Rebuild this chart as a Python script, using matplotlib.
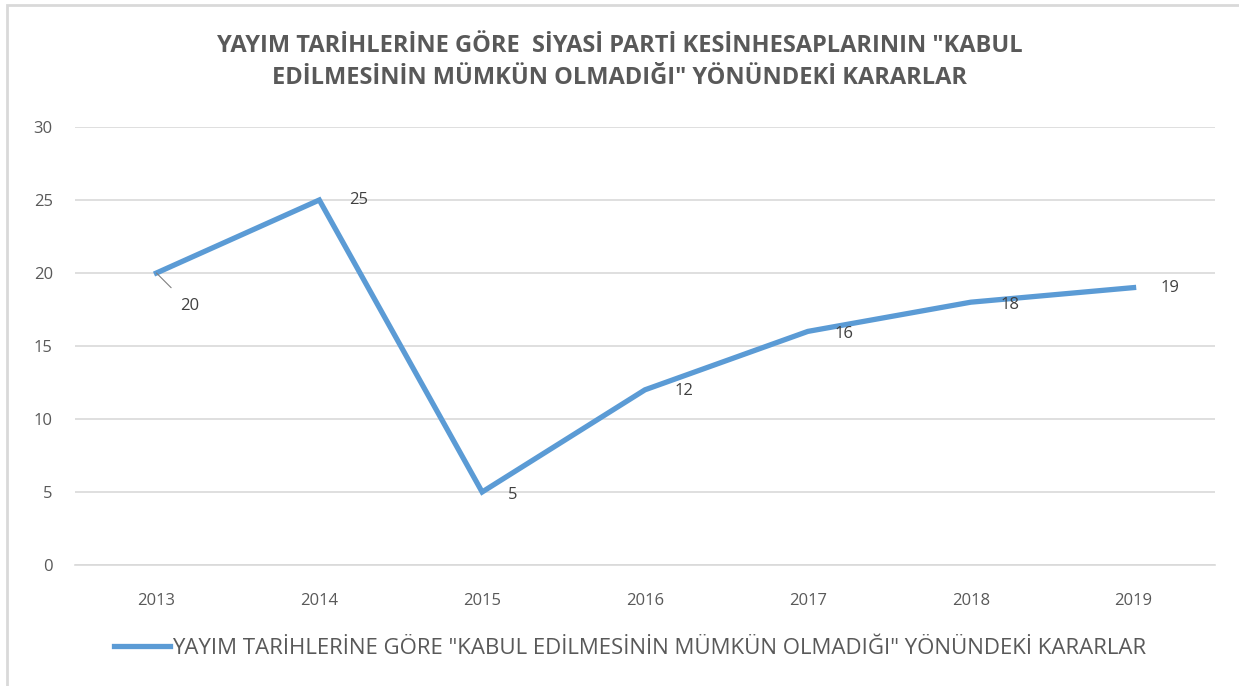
import matplotlib
matplotlib.use("Agg")
import matplotlib.pyplot as plt
from matplotlib.patches import Rectangle

years = ["2013", "2014", "2015", "2016", "2017", "2018", "2019"]
values = [20, 25, 5, 12, 16, 18, 19]
y_ticks = [0, 5, 10, 15, 20, 25, 30]
title = 'YAYIM TARİHLERİNE GÖRE  SİYASİ PARTİ KESİNHESAPLARININ "KABUL\nEDİLMESİNİN MÜMKÜN OLMADIĞI" YÖNÜNDEKİ KARARLAR'
series_name = 'YAYIM TARİHLERİNE GÖRE "KABUL EDİLMESİNİN MÜMKÜN OLMADIĞI" YÖNÜNDEKİ KARARLAR'

# label offsets in points (dx, dy) per point
label_offsets = [(24, -24), (28, 0), (22, -2), (28, -1), (26, -2), (28, -2), (26, 0)]

plt.rcParams['font.family'] = ['Open Sans', 'DejaVu Sans']
W, H = 1239, 686
fig = plt.figure(figsize=(W / 100, H / 100), dpi=100)
fig.patch.set_facecolor('white')

# chart border
fig.add_artist(Rectangle((7 / W, -0.01), 1.02, 1 - 5 / H + 0.01, transform=fig.transFigure,
                         fill=False, edgecolor='#d9d9d9', linewidth=2))

ax = fig.add_axes([75 / W, 1 - 565 / H, (1215 - 75) / W, (565 - 127) / H])
x = list(range(len(years)))
line, = ax.plot(x, values, color='#5B9BD5', linewidth=3.8, solid_joinstyle='miter',
                label=series_name, zorder=3)

ax.set_xlim(-0.5, len(years) - 0.5)
ax.set_ylim(0, 30)
ax.set_yticks(y_ticks)
ax.set_yticklabels([str(t) for t in y_ticks])
ax.set_xticks(x)
ax.set_xticklabels(years)
ax.tick_params(axis='both', length=0, labelsize=12, labelcolor='#595959')
ax.tick_params(axis='y', pad=16)
ax.tick_params(axis='x', pad=20)
for s in ['top', 'right', 'left']:
    ax.spines[s].set_visible(False)
ax.spines['bottom'].set_color('#d9d9d9')
ax.spines['bottom'].set_linewidth(1.2)
ax.grid(axis='y', color='#d9d9d9', linewidth=1.2)
ax.set_axisbelow(True)

for i, v in enumerate(values):
    dx, dy = label_offsets[i]
    if i == 0:
        ax.annotate(str(v), xy=(i, v), xytext=(dx, dy), textcoords='offset points',
                    ha='center', va='center', fontsize=12, color='#404040',
                    arrowprops=dict(arrowstyle='-', color='#808080', lw=0.8,
                                    shrinkA=8, shrinkB=0))
    else:
        ax.annotate(str(v), xy=(i, v), xytext=(dx, dy), textcoords='offset points',
                    ha='center', va='center', fontsize=12, color='#404040')

fig.text(0.5, 1 - 62 / H, title, ha='center', va='center', fontsize=17,
         fontweight='bold', color='#595959', linespacing=1.4)

leg = fig.legend(handles=[line], loc='center', bbox_to_anchor=(630 / W, 1 - 648 / H),
                 frameon=False, fontsize=16, handlelength=2.5, handletextpad=0.1)
for t in leg.get_texts():
    t.set_color('#595959')

fig.savefig('out.png', dpi=100, facecolor='white')
